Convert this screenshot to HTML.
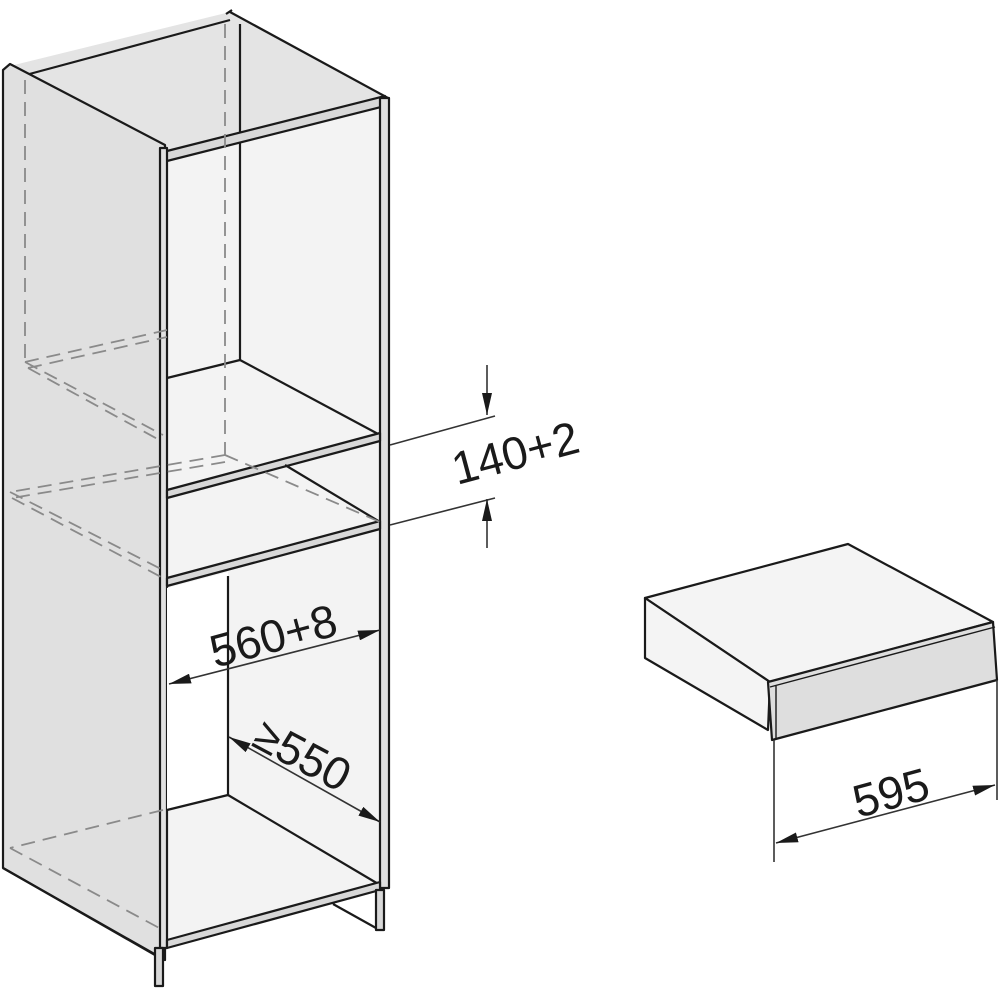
<!DOCTYPE html>
<html><head><style>html,body{margin:0;padding:0;background:#fff}svg{display:block}</style></head><body>
<svg width="1000" height="1000" viewBox="0 0 1000 1000" xmlns="http://www.w3.org/2000/svg" font-family="Liberation Sans, sans-serif">
<defs>
<marker id="ah" viewBox="0 0 10 10" refX="10" refY="5" markerWidth="22" markerHeight="10" markerUnits="userSpaceOnUse" orient="auto-start-reverse" preserveAspectRatio="none"><path d="M0,0 L10,5 L0,10z" fill="#1a1a1a"/></marker>
</defs>
<g stroke="#1a1a1a" stroke-width="2.2" stroke-linejoin="round">
<polygon points="163,160 385,104 385,888 163,945" fill="#f3f3f3" stroke="none"/>
<polygon points="10,66 230,12 388,98 163,152" fill="#e4e4e4" stroke="none"/>
<polyline points="22,76 230,20" fill="none"/>
<polyline points="230,12 388,98" fill="none"/>
<polyline points="226,14 232,10" fill="none"/>
<line x1="240" y1="24" x2="240" y2="360"/>
<polygon points="3,70 10,64 165,145 165,960 3,868" fill="#e0e0e0"/>
<polygon points="163,152 385,96 385,106 163,162" fill="#d8d8d8"/>
<rect x="380" y="98" width="9" height="790" fill="#e0e0e0"/>
<rect x="160" y="148" width="7" height="800" fill="#e0e0e0"/>
<polygon points="167,588 228,572 228,795 167,810" fill="#fff" stroke="none"/>
<line x1="228" y1="576" x2="228" y2="795"/>
<line x1="167" y1="810" x2="228" y2="795"/>
<line x1="228" y1="795" x2="380" y2="885"/>
<polygon points="167,940 380,882 380,890 167,948" fill="#d8d8d8"/>
<rect x="155" y="948" width="8" height="38" fill="#d8d8d8"/>
<line x1="3" y1="868" x2="155" y2="955"/>
<rect x="376" y="890" width="8" height="40" fill="#d8d8d8"/>
<line x1="333" y1="904" x2="376" y2="928"/>
<line x1="167" y1="378" x2="240" y2="360"/>
<line x1="240" y1="360" x2="380" y2="435"/>
<polygon points="167,490 380,433 380,441 167,498" fill="#d8d8d8"/>
<line x1="285" y1="465" x2="380" y2="522"/>
<polygon points="167,578 380,521 380,529 167,586" fill="#d8d8d8"/>
</g>
<g stroke="#8a8a8a" stroke-width="1.8" fill="none" stroke-dasharray="14,8">
<line x1="25" y1="80" x2="25" y2="362"/>
<line x1="225" y1="24" x2="225" y2="455"/>
<line x1="25" y1="362" x2="167" y2="330"/>
<line x1="28" y1="368" x2="167" y2="337"/>
<line x1="25" y1="362" x2="163" y2="435"/>
<line x1="28" y1="368" x2="163" y2="442"/>
<line x1="225" y1="455" x2="10" y2="492"/>
<line x1="225" y1="462" x2="12" y2="498"/>
<line x1="225" y1="455" x2="380" y2="522"/>
<line x1="10" y1="492" x2="163" y2="570"/>
<line x1="12" y1="498" x2="163" y2="578"/>
<line x1="163" y1="810" x2="10" y2="848"/>
<line x1="10" y1="848" x2="163" y2="930"/>
</g>
<g stroke="#333" stroke-width="1.6" fill="none">
<line x1="390" y1="445" x2="495" y2="416"/>
<line x1="390" y1="525" x2="495" y2="498"/>
<line x1="487" y1="365" x2="487" y2="415" marker-end="url(#ah)"/>
<line x1="487" y1="548" x2="487" y2="499" marker-end="url(#ah)"/>
<line x1="169" y1="684" x2="380" y2="630" marker-start="url(#ah)" marker-end="url(#ah)"/>
<line x1="229" y1="737" x2="380" y2="822" marker-start="url(#ah)" marker-end="url(#ah)"/>
</g>
<g fill="#1a1a1a" font-size="46">
<text transform="translate(457,485) rotate(-15)">140+2</text>
<text transform="translate(215,668) rotate(-15)">560+8</text>
<text transform="translate(250,745) rotate(28)">≥550</text>
<text transform="translate(858,818) rotate(-15)">595</text>
</g>
<g stroke="#1a1a1a" stroke-width="2.2" stroke-linejoin="round">
<polygon points="645,598 848,544 993,622 770,682" fill="#f4f4f4"/>
<polygon points="645,598 770,682 768,730 645,658" fill="#f4f4f4"/>
<polygon points="768,682 993,622 997,680 772,740" fill="#dedede"/>
<line x1="770" y1="687" x2="995" y2="627" stroke-width="1.4"/>
<line x1="776" y1="686" x2="776" y2="738" stroke-width="1.4"/>
</g>
<g stroke="#333" stroke-width="1.6" fill="none">
<line x1="774" y1="740" x2="774" y2="862"/>
<line x1="997" y1="680" x2="997" y2="800"/>
<line x1="776" y1="843" x2="995" y2="785" marker-start="url(#ah)" marker-end="url(#ah)"/>
</g>
</svg>
</body></html>
